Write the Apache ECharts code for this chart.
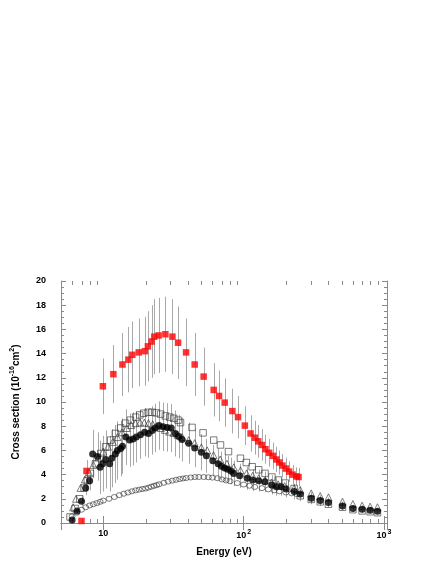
<!DOCTYPE html>
<html>
<head>
<meta charset="utf-8">
<script src="https://cdn.jsdelivr.net/npm/echarts@6/dist/echarts.min.js"></script>
<style>
  html, body { margin: 0; padding: 0; background: #fff; }
  #chart { width: 436px; height: 564px; }
</style>
</head>
<body>
<div id="chart"></div>
<script>
// [energy eV, cross section, error]
const redSquares = [
  [7.0, 0.17, 0.05], [7.6, 4.3, 0.9], [9.94, 11.3, 2.3], [11.8, 12.3, 2.4], [13.7, 13.1, 2.6],
  [15.1, 13.5, 2.7], [16.1, 13.9, 2.75], [17.9, 14.1, 2.8], [19.8, 14.2, 2.85], [20.8, 14.6, 2.9],
  [22.1, 15.0, 3.0], [23.1, 15.4, 3.1], [24.8, 15.5, 3.1], [27.7, 15.6, 3.1], [31.1, 15.4, 3.1],
  [34.1, 14.9, 3.0], [38.9, 14.1, 2.8], [44.8, 13.1, 2.6], [51.9, 12.1, 2.4], [61.2, 11.0, 2.2],
  [66.8, 10.5, 2.1], [73.3, 9.95, 2.0], [83.1, 9.25, 1.85], [91.2, 8.75, 1.75], [102, 8.05, 1.6],
  [112, 7.4, 1.5], [120, 7.05, 1.4], [127, 6.75, 1.35], [135, 6.45, 1.3], [143, 6.1, 1.2],
  [152, 5.8, 1.15], [162, 5.55, 1.1], [171, 5.25, 1.05], [180, 5.0, 1.0], [189, 4.75, 0.95],
  [200, 4.5, 0.9], [211, 4.25, 0.85], [223, 4.0, 0.8], [237, 3.85, 0.75], [246, 3.8, 0.75]
];

const blackCircles = [
  [6.0, 0.25, 0.1], [6.5, 1.0, 0.2], [7.0, 1.8, 0.4], [7.5, 2.9, 0.6], [8.0, 3.5, 0.8],
  [8.4, 5.7, 2.0], [9.1, 5.5, 2.0], [9.5, 4.6, 2.2], [9.9, 4.9, 2.3], [10.4, 5.25, 2.4],
  [11.1, 4.9, 2.3], [11.5, 5.35, 2.4], [12.2, 5.7, 2.4], [12.6, 6.0, 2.4], [13.3, 6.15, 2.3],
  [13.7, 6.35, 2.3], [14.5, 7.1, 2.3], [15.4, 6.85, 2.2], [16.3, 6.95, 2.2], [17.2, 7.1, 2.1],
  [18.4, 7.3, 2.0], [19.7, 7.5, 2.0], [21.0, 7.4, 2.0], [22.3, 7.65, 2.0], [23.4, 7.85, 2.0],
  [25.0, 8.05, 2.0], [26.7, 7.95, 2.0], [28.5, 7.9, 2.0], [30.5, 7.85, 2.0], [32.7, 7.4, 1.9],
  [34.5, 7.15, 1.8], [36.4, 6.9, 1.8], [40.6, 6.6, 1.7], [44.8, 6.2, 1.6], [50.0, 5.85, 1.5],
  [54.3, 5.55, 1.4], [60.3, 5.15, 1.3], [65.8, 4.9, 1.25], [69.4, 4.7, 1.2], [73.3, 4.55, 1.15],
  [76.9, 4.45, 1.1], [81.3, 4.3, 1.1], [84.9, 4.1, 1.05], [93.6, 3.9, 1.0], [106, 3.7, 0.95],
  [116, 3.55, 0.9], [128, 3.5, 0.9], [142, 3.4, 0.85], [159, 3.15, 0.8], [171, 3.0, 0.75],
  [185, 3.0, 0.75], [201, 2.8, 0.7], [229, 2.6, 0.65], [253, 2.4, 0.6], [303, 2.05, 0.5],
  [351, 1.85, 0.45], [402, 1.7, 0.4], [506, 1.4, 0.35], [600, 1.2, 0.3], [698, 1.13, 0.3],
  [796, 1.05, 0.25], [898, 0.97, 0.25]
];

const openSquares = [
  [5.8, 0.5], [6.3, 1.2], [6.8, 2.0], [7.3, 2.9], [7.7, 3.5], [8.1, 4.1], [8.8, 4.9], [9.6, 5.75],
  [10.4, 6.3], [11.3, 6.85], [12.2, 7.4], [13.3, 7.85], [14.4, 8.25], [15.6, 8.5], [17.0, 8.75],
  [18.2, 8.93], [19.4, 9.07], [20.9, 9.15], [22.3, 9.15], [23.9, 9.1], [25.6, 9.0], [27.7, 8.85],
  [29.8, 8.75], [31.8, 8.65], [34.1, 8.5], [35.5, 8.3], [42.9, 7.9], [51.4, 7.45], [61.2, 6.85],
  [68.4, 6.45], [78, 5.9], [94.9, 5.35], [104.5, 5.0], [115, 4.65], [128, 4.4], [142, 4.1],
  [159, 3.8], [177, 3.55], [198, 3.3], [229, 2.85], [253, 2.25], [303, 1.95], [351, 1.75],
  [402, 1.55], [506, 1.3], [600, 1.1], [698, 1.0], [796, 0.93], [898, 0.85]
];

const openTriangles = [
  [6.1, 1.3], [6.4, 2.0], [6.9, 2.9], [7.4, 3.6], [7.9, 4.2], [8.5, 4.8], [9.2, 5.4], [10.0, 5.9],
  [10.8, 6.3], [11.7, 6.7], [12.6, 7.1], [13.6, 7.5], [14.7, 7.85], [15.8, 8.1], [17.0, 8.25],
  [18.3, 8.3], [19.6, 8.3], [21.0, 8.25], [22.5, 8.15], [24.0, 8.0], [25.7, 7.85], [27.5, 7.7],
  [29.5, 7.55], [31.6, 7.45], [33.8, 7.3], [36.5, 7.1], [40.6, 6.85], [44.8, 6.6], [50, 6.25],
  [55, 6.0], [61, 5.6], [68, 5.25], [76, 4.9], [85, 4.6], [95, 4.35], [105, 4.1], [116, 3.9],
  [128, 3.7], [142, 3.52], [158, 3.35], [176, 3.2], [196, 3.05], [229, 2.87], [253, 2.73],
  [303, 2.45], [351, 2.23], [402, 2.12], [506, 1.76], [600, 1.57], [698, 1.43], [796, 1.35], [898, 1.3]
];

const openCircles = [
  [6.0, 0.55], [6.5, 0.85], [7.0, 1.1], [7.5, 1.3], [8.0, 1.45], [8.5, 1.55], [9.0, 1.65], [9.5, 1.75],
  [10, 1.85], [11, 2.0], [12, 2.15], [13, 2.3], [14, 2.42], [15, 2.52], [16, 2.62], [17, 2.7],
  [18, 2.76], [19, 2.81], [20, 2.85], [21, 2.92], [22, 3.0], [23, 3.07], [24, 3.13], [25, 3.2],
  [27, 3.32], [29, 3.42], [31, 3.5], [33, 3.57], [35, 3.63], [37, 3.68], [39, 3.72], [42, 3.76],
  [45, 3.8], [48, 3.8], [52, 3.8], [56, 3.78], [60, 3.75], [65, 3.7], [70, 3.6], [75, 3.52],
  [80, 3.45], [90, 3.3], [100, 3.18], [110, 3.08], [120, 2.98], [135, 2.88], [150, 2.78],
  [165, 2.7], [180, 2.62], [200, 2.52], [220, 2.45], [240, 2.38]
];

const xMinorTicks = [6, 7, 8, 9, 20, 30, 40, 50, 60, 70, 80, 90, 200, 300, 400, 500, 600, 700, 800, 900];

const axisColor = '#8a8a8a';
const barColor = '#a8a8a8';
const labelFont = { fontFamily: 'Liberation Sans, Arial, sans-serif', fontWeight: 'bold', color: '#000' };

function errorBars(data, z) {
  return {
    type: 'custom',
    silent: true,
    z: z,
    clip: true,
    data: data.map(d => [d[0], d[1] - d[2], d[1] + d[2]]),
    encode: { x: 0, y: [1, 2] },
    renderItem: function (params, api) {
      const lo = api.coord([api.value(0), api.value(1)]);
      const hi = api.coord([api.value(0), api.value(2)]);
      const x = Math.round(lo[0]) + 0.5;
      return {
        type: 'line',
        shape: { x1: x, y1: lo[1], x2: x, y2: hi[1] },
        style: { stroke: barColor, lineWidth: 1 }
      };
    }
  };
}

function xLabel(v) {
  const p = Math.round(Math.log10(v));
  if (Math.abs(Math.log10(v) - p) > 1e-6) return '';
  if (p === 1) return '10';
  if (p === 2 || p === 3) return '10{s|' + p + '}';
  return '';
}

const xBase = {
  type: 'log',
  logBase: 10,
  min: 5,
  max: 1050,
  axisLine: { show: true, lineStyle: { color: axisColor, width: 1 } },
  axisTick: { show: true, inside: true, length: 7, lineStyle: { color: axisColor } },
  minorTick: { show: false },
  splitLine: { show: false }
};

const yBase = {
  type: 'value',
  min: 0,
  max: 20,
  interval: 2,
  axisLine: { show: true, lineStyle: { color: axisColor, width: 1 } },
  axisTick: { show: true, inside: true, length: 5, lineStyle: { color: axisColor } },
  minorTick: { show: true, splitNumber: 4, length: 3, lineStyle: { color: axisColor } },
  splitLine: { show: false }
};

const chart = echarts.init(document.getElementById('chart'), null, { renderer: 'canvas' });

chart.setOption({
  animation: false,
  backgroundColor: '#fff',
  grid: { left: 61, right: 49, top: 281, bottom: 41 },
  xAxis: [
    Object.assign({}, xBase, {
      position: 'bottom',
      name: 'Energy (eV)',
      nameLocation: 'middle',
      nameGap: 24,
      nameTextStyle: Object.assign({ fontSize: 10 }, labelFont),
      axisLabel: Object.assign({
        fontSize: 9,
        margin: 6,
        formatter: xLabel,
        showMinLabel: false,
        showMaxLabel: false,
        rich: { s: Object.assign({ fontSize: 7, padding: [0, 0, 7, 1] }, labelFont) }
      }, labelFont)
    }),
    Object.assign({}, xBase, { position: 'top', axisLabel: { show: false } })
  ],
  yAxis: [
    Object.assign({}, yBase, {
      position: 'left',
      name: '{a|Cross section (10}{s|-16}{a|cm}{s|2}{a|)}',
      nameLocation: 'middle',
      nameRotate: 90,
      nameGap: 38,
      nameTextStyle: {
        rich: {
          a: Object.assign({ fontSize: 10 }, labelFont),
          s: Object.assign({ fontSize: 7, padding: [0, 0, 7, 0] }, labelFont)
        }
      },
      axisLabel: Object.assign({ fontSize: 9, margin: 15 }, labelFont)
    }),
    Object.assign({}, yBase, { position: 'right', axisLabel: { show: false } })
  ],
  series: [
    {
      // log-axis minor ticks at 2..9 x 10^n, bottom and top
      type: 'custom',
      silent: true,
      clip: false,
      data: xMinorTicks.map(e => [e, 0]),
      encode: { x: 0, y: 1 },
      renderItem: function (params, api) {
        const b = api.coord([api.value(0), 0]);
        const t = api.coord([api.value(0), 20]);
        const x = Math.round(b[0]) + 0.5;
        return {
          type: 'group',
          children: [
            { type: 'line', shape: { x1: x, y1: b[1], x2: x, y2: b[1] - 4 }, style: { stroke: axisColor, lineWidth: 1 } },
            { type: 'line', shape: { x1: x, y1: t[1], x2: x, y2: t[1] + 4 }, style: { stroke: axisColor, lineWidth: 1 } }
          ]
        };
      }
    },
    errorBars(blackCircles, 1),
    errorBars(redSquares, 1),
    {
      type: 'scatter',
      data: openCircles,
      symbol: 'circle',
      symbolSize: [6, 5],
      z: 2,
      itemStyle: { color: 'rgba(255,255,255,0)', borderColor: '#333', borderWidth: 0.8 }
    },
    {
      type: 'scatter',
      data: openSquares,
      symbol: 'rect',
      symbolSize: 6.5,
      z: 3,
      itemStyle: { color: 'rgba(255,255,255,0)', borderColor: '#333', borderWidth: 0.8 }
    },
    {
      type: 'scatter',
      data: openTriangles,
      symbol: 'triangle',
      symbolSize: 7,
      z: 4,
      itemStyle: { color: 'rgba(255,255,255,0)', borderColor: '#333', borderWidth: 0.8 }
    },
    {
      type: 'scatter',
      data: blackCircles.map(d => [d[0], d[1]]),
      symbol: 'circle',
      symbolSize: 7,
      z: 5,
      itemStyle: { color: '#000' }
    },
    {
      type: 'scatter',
      data: redSquares.map(d => [d[0], d[1]]),
      symbol: 'rect',
      symbolSize: 6.5,
      z: 6,
      itemStyle: { color: '#ff0000' }
    }
  ]
});
</script>
</body>
</html>
